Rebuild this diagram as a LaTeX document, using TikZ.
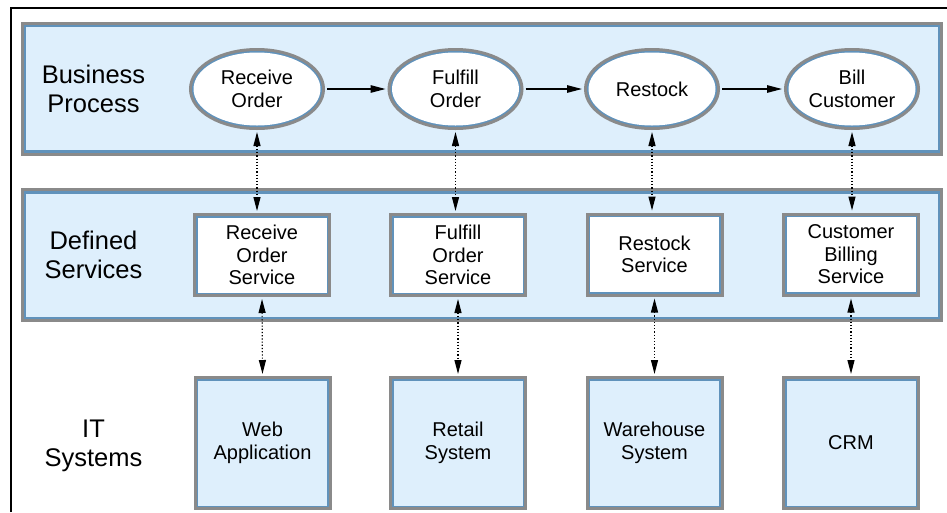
\documentclass[tikz,border=0pt]{standalone}
\usepackage{fontspec}
\setmainfont{Liberation Sans}
\usetikzlibrary{shapes.geometric,arrows.meta}
\definecolor{bandfill}{RGB}{222,239,252}
\definecolor{edgeblue}{RGB}{96,146,187}
\definecolor{edgegrey}{RGB}{138,138,138}
\begin{document}
\begin{tikzpicture}[x=1pt,y=-1pt,
  band/.style={rectangle, draw=edgegrey, fill=bandfill, line width=11pt,
    postaction={draw=edgeblue, line width=5pt}, postaction={fill=bandfill},
    inner sep=0pt, minimum width=911.5pt, minimum height=123pt},
  procnode/.style={ellipse, draw=edgegrey, fill=white, line width=9pt,
    postaction={draw=edgeblue, line width=3pt}, postaction={fill=white},
    inner sep=0pt, minimum width=127pt, minimum height=73pt,
    align=center, font=\fontsize{20}{22.5}\selectfont},
  servbox/.style={rectangle, draw=edgegrey, fill=white, line width=9pt,
    postaction={draw=edgeblue, line width=3pt}, postaction={fill=white},
    inner sep=0pt, minimum width=129pt, minimum height=75pt,
    align=center, font=\fontsize{20}{22.5}\selectfont},
  sysbox/.style={rectangle, draw=edgegrey, fill=bandfill, line width=9pt,
    postaction={draw=edgeblue, line width=3pt}, postaction={fill=bandfill},
    inner sep=0pt, minimum width=129pt, minimum height=125pt,
    align=center, font=\fontsize{20}{22.5}\selectfont},
  layerlabel/.style={align=center, inner sep=0pt, font=\fontsize{25.5}{29}\selectfont},
  flowarrow/.style={-{Triangle[length=15pt,width=7.5pt]}, line width=1.2pt,
    shorten <=2pt, shorten >=2pt},
  linkarrow/.style={{Triangle[length=14pt,width=7pt]}-{Triangle[length=14pt,width=7pt]},
    dotted, line width=1.2pt, shorten <=2pt, shorten >=2pt}
]
\useasboundingbox (0,0) rectangle (947,512);
\fill[white] (0,0) rectangle (947,512);
\draw[line width=1.3pt] (11,512) -- (11,8) -- (947,8);

% bands
\node[band] (bp) at (481.75,88.5) {};
\node[band] (ds) at (481.75,255.25) {};

% layer labels
\node[layerlabel] (lbp) at (93.5,89) {Business\\Process};
\node[layerlabel] (lds) at (93.5,255) {Defined\\Services};
\node[layerlabel] (lit) at (93.5,446) {IT\\Systems};

% process ellipses
\node[procnode] (e1) at (257,89) {Receive\\Order};
\node[procnode] (e2) at (455.5,89) {Fulfill\\Order};
\node[procnode] (e3) at (652,89) {Restock};
\node[procnode] (e4) at (852,89) {Bill\\Customer};

% services
\node[servbox] (s1) at (262,255) {Receive\\Order\\Service};
\node[servbox] (s2) at (458,255) {Fulfill\\Order\\Service};
\node[servbox] (s3) at (654.5,254.5) {Restock\\Service};
\node[servbox] (s4) at (851,254.5) {Customer\\Billing\\Service};

% IT systems
\node[sysbox] (t1) at (262.5,443) {Web\\Application};
\node[sysbox] (t2) at (458,443) {Retail\\System};
\node[sysbox] (t3) at (654.5,443) {Warehouse\\System};
\node[sysbox] (t4) at (851,443) {CRM};

% process flow
\draw[flowarrow] (e1) -- (e2);
\draw[flowarrow] (e2) -- (e3);
\draw[flowarrow] (e3) -- (e4);

% process <-> service
\draw[linkarrow] (e1.south) -- (e1.south |- s1.north);
\draw[linkarrow] (e2.south) -- (e2.south |- s2.north);
\draw[linkarrow] (e3.south) -- (e3.south |- s3.north);
\draw[linkarrow] (e4.south) -- (e4.south |- s4.north);

% service <-> IT system
\draw[linkarrow] (s1.south) -- (t1.north);
\draw[linkarrow] (s2.south) -- (t2.north);
\draw[linkarrow] (s3.south) -- (t3.north);
\draw[linkarrow] (s4.south) -- (t4.north);
\end{tikzpicture}
\end{document}
